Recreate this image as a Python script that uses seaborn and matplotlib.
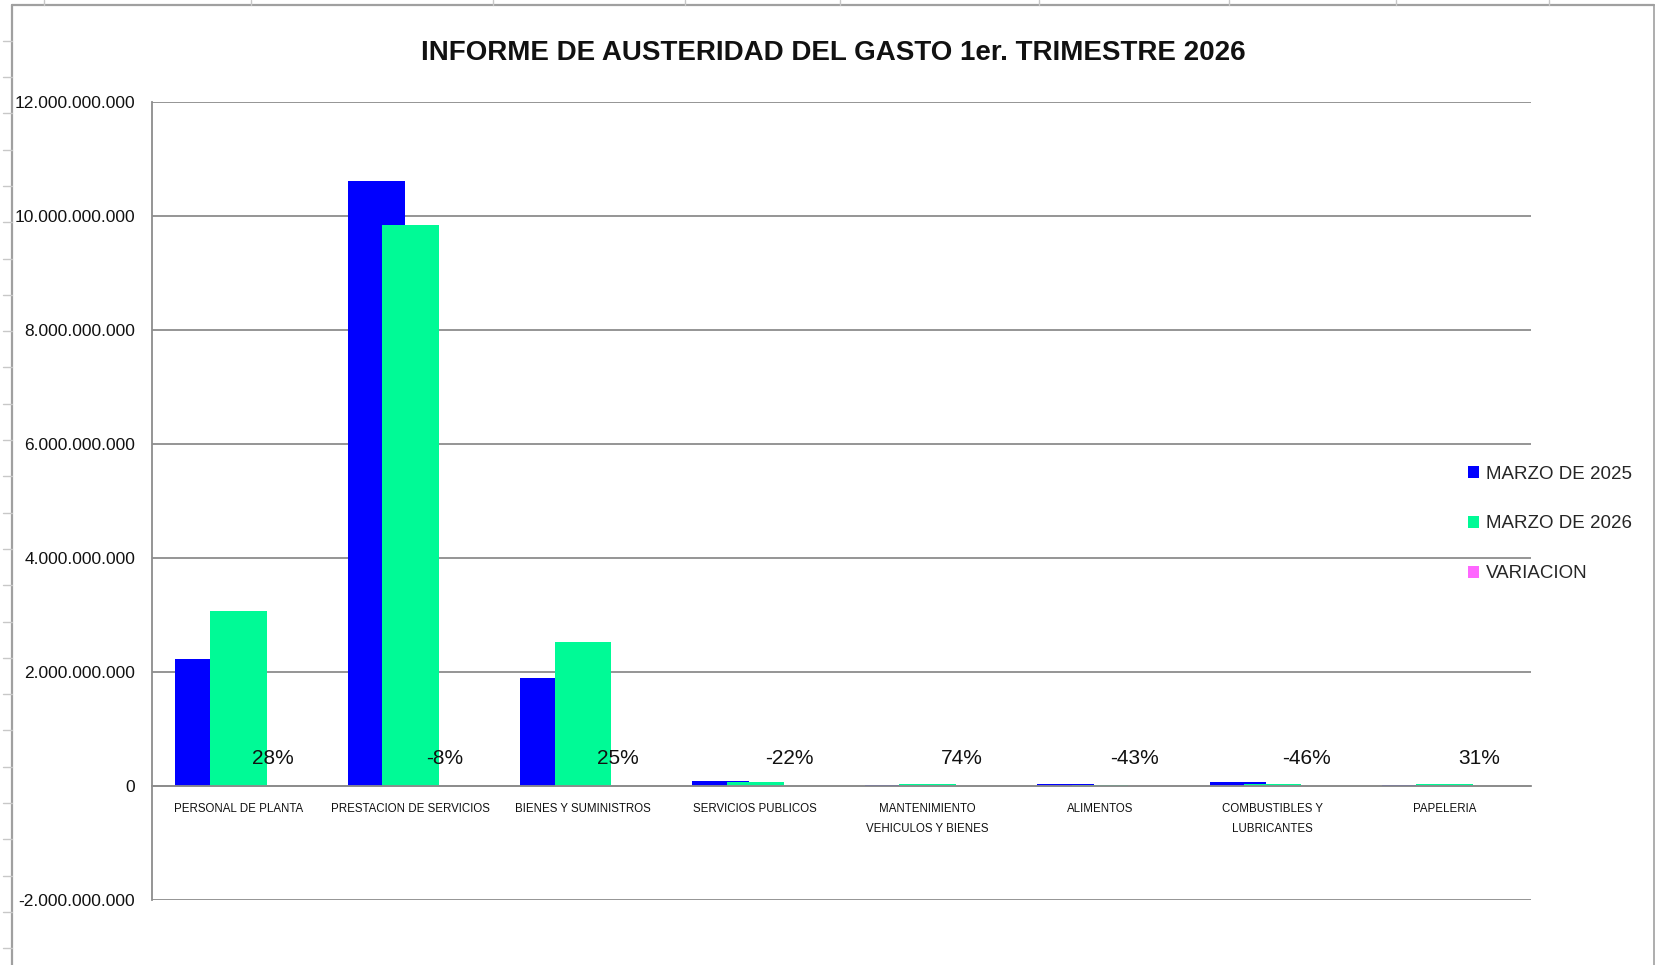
import matplotlib
matplotlib.use("Agg")
import matplotlib.pyplot as plt
import pandas as pd
import seaborn as sns
from matplotlib.lines import Line2D

categorias = ["PERSONAL DE PLANTA", "PRESTACION DE SERVICIOS", "BIENES Y SUMINISTROS",
              "SERVICIOS PUBLICOS", "MANTENIMIENTO\nVEHICULOS Y BIENES", "ALIMENTOS",
              "COMBUSTIBLES Y\nLUBRICANTES", "PAPELERIA"]
marzo_2025 = [2.22e9, 10.62e9, 1.89e9, 95e6, 17e6, 40e6, 70e6, 23e6]
marzo_2026 = [3.07e9, 9.85e9, 2.52e9, 74e6, 30e6, 23e6, 38e6, 30e6]
variacion = [0.28, -0.08, 0.25, -0.22, 0.74, -0.43, -0.46, 0.31]
series = ["MARZO DE 2025", "MARZO DE 2026", "VARIACION"]
colores = ["#0000ff", "#00fa96", "#ff66ff"]

sns.set_theme(style="white")
plt.rcParams["font.family"] = ["Liberation Sans", "DejaVu Sans"]

df = pd.DataFrame({
    "categoria": categorias * 3,
    "serie": [s for s in series for _ in categorias],
    "valor": marzo_2025 + marzo_2026 + variacion,
})

W, H = 1656, 965
fig = plt.figure(figsize=(W / 100, H / 100), dpi=100)
ax = fig.add_axes([0.0918, 0.0674, 0.9245 - 0.0918, 0.8943 - 0.0674])

sns.barplot(data=df, x="categoria", y="valor", hue="serie", hue_order=series,
            palette=colores, width=0.6, gap=0, dodge=True, errorbar=None,
            saturation=1, linewidth=0, ax=ax)

# excel style overlap: widen each bar around its centre
for cont in ax.containers:
    for p in cont.patches:
        c = p.get_x() + p.get_width() / 2
        p.set_width(0.33)
        p.set_x(c - 0.165)

# category axis crosses at zero (set before tick labels: it resets the ticks)
ax.spines["top"].set_visible(False)
ax.spines["right"].set_visible(False)
ax.spines["left"].set_color("#8c8c8c")
ax.spines["left"].set_linewidth(1.3)
ax.spines["bottom"].set_position(("data", 0))
ax.spines["bottom"].set_color("#8c8c8c")
ax.spines["bottom"].set_linewidth(1.3)

ax.set_ylim(-2e9, 12e9)
ax.set_xlim(-0.5, len(categorias) - 0.5)
ax.set_yticks([-2e9, 0, 2e9, 4e9, 6e9, 8e9, 10e9, 12e9])
ax.set_yticklabels([f"{v:,.0f}".replace(",", ".") for v in ax.get_yticks()])
ax.set_xticks(range(len(categorias)))
ax.set_xticklabels(categorias, linespacing=1.9)
ax.tick_params(axis="y", length=0, pad=12, colors="#111111", labelsize=12.5)
ax.tick_params(axis="x", length=0, pad=12, colors="#111111", labelsize=8.3)
ax.set_xlabel("")
ax.set_ylabel("")

ax.yaxis.grid(True, color="#8c8c8c", lw=1.3)
ax.set_axisbelow(True)

for i, v in enumerate(variacion):
    ax.annotate(f"{round(v * 100):d}%", xy=(i + 0.2, 0), xytext=(0, 20),
                textcoords="offset points", ha="center", va="center",
                fontsize=15, color="#111111")

handles, labels = ax.get_legend_handles_labels()
ax.legend(handles, labels, loc="center left", bbox_to_anchor=(0.8865, 0.457),
          bbox_transform=fig.transFigure, frameon=False, fontsize=13.5,
          handlelength=0.6, handleheight=0.6, handletextpad=0.35,
          labelspacing=1.75, borderpad=0, borderaxespad=0)

fig.text(0.503, 0.945, "INFORME DE AUSTERIDAD DEL GASTO 1er. TRIMESTRE 2026",
         ha="center", va="center", fontsize=20, fontweight="bold", color="#111111")

# spreadsheet frame and cell lines around the chart
frame = "#a0a0a0"
top_y = 1 - 5 / H
fig.add_artist(Line2D([12 / W, 1654 / W], [top_y, top_y], color=frame, lw=1.6))
fig.add_artist(Line2D([12 / W, 12 / W], [0, top_y], color=frame, lw=1.6))
fig.add_artist(Line2D([1654 / W, 1654 / W], [0, top_y], color=frame, lw=1.2))
for cx in [44, 251, 493, 685, 840, 1039, 1229, 1396, 1549]:
    fig.add_artist(Line2D([cx / W, cx / W], [top_y, 1], color="#c8c8c8", lw=1))
for k in range(26):
    ry = 1 - (40.7 + 36.3 * k) / H
    if ry > 0:
        fig.add_artist(Line2D([3 / W, 12 / W], [ry, ry], color="#c8c8c8", lw=1))

fig.savefig("out.png", dpi=100)
